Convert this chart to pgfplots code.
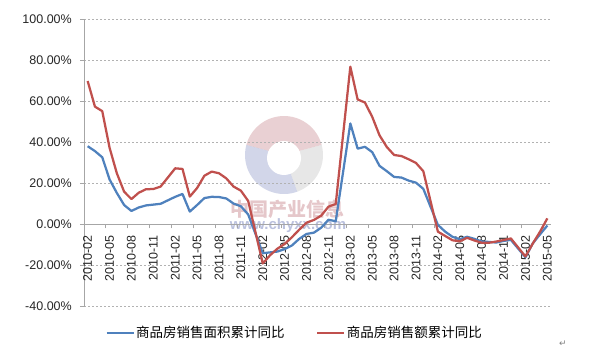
\documentclass[border=0pt]{standalone}
\usepackage{fontspec}
\setmainfont{Liberation Sans}
\newfontfamily\cjk{Noto Sans CJK SC}
\newfontfamily\dejavu{DejaVu Sans}
\usepackage{pgfplots}
\pgfplotsset{compat=1.18}
\definecolor{sblue}{HTML}{4F81BD}
\definecolor{sred}{HTML}{C0504D}
\definecolor{wmpink}{HTML}{C98A90}
\definecolor{wmblue}{HTML}{8E98C8}
\definecolor{wmgray}{HTML}{C4C4C4}

\pgfplotstableread{
i v
0 38.2
1 35.8
2 32.8
3 22.0
4 15.4
5 9.5
6 6.6
7 8.3
8 9.3
9 9.7
10 10.1
12 13.5
13 14.9
14 6.3
15 9.5
16 12.9
17 13.5
18 13.4
19 12.7
20 10.2
21 8.9
22 4.9
24 -14.0
25 -13.6
26 -13.2
27 -12.0
28 -10.2
29 -7.0
30 -4.6
31 -4.0
32 -1.6
33 2.3
34 1.6
36 49.3
37 37.0
38 37.9
39 35.3
40 28.6
41 26.0
42 23.2
43 22.9
44 21.4
45 20.4
46 17.4
48 -0.2
49 -3.5
50 -6.0
51 -7.2
52 -6.0
53 -7.0
54 -8.3
55 -8.5
56 -8.8
57 -8.0
58 -7.5
60 -16.0
61 -9.2
62 -4.8
63 -0.5
}\areadata

\pgfplotstableread{
i v
0 70.0
1 57.5
2 55.3
3 37.5
4 25.0
5 16.0
6 12.4
7 15.5
8 17.2
9 17.3
10 18.5
12 27.4
13 27.1
14 13.6
15 17.8
16 23.8
17 25.8
18 25.0
19 22.5
20 18.5
21 16.5
22 11.5
24 -19.0
25 -15.0
26 -11.8
27 -9.5
28 -6.2
29 -2.5
30 0.9
31 2.2
32 4.3
33 8.7
34 10.0
36 77.0
37 61.0
38 59.5
39 52.5
40 43.5
41 37.8
42 33.9
43 33.4
44 31.8
45 30.0
46 26.0
48 -3.5
49 -5.6
50 -7.7
51 -8.2
52 -6.5
53 -7.8
54 -8.9
55 -8.9
56 -8.3
57 -7.6
58 -6.8
60 -15.6
61 -9.3
62 -3.5
63 3.0
}\valuedata

\begin{document}
\begin{tikzpicture}
\path[use as bounding box] (0bp,0bp) rectangle (602bp,352bp);
% watermark
\begin{scope}[opacity=0.4]
  \fill[wmpink] (284bp,197bp) -- ++(15:39bp) arc (15:165:39bp) -- cycle;
  \fill[wmblue] (284bp,197bp) -- ++(165:39bp) arc (165:290:39bp) -- cycle;
  \fill[wmgray] (284bp,197bp) -- ++(290:39bp) arc (290:375:39bp) -- cycle;
\end{scope}
\fill[white] (284bp,194bp) circle (17bp);
\node[text=wmpink!80, opacity=0.6, font=\cjk\bfseries\fontsize{19bp}{20bp}\selectfont] at (287bp,143bp) {中国产业信息};
\node[text=wmblue, opacity=0.6, font=\bfseries\fontsize{15bp}{16bp}\selectfont] at (288bp,126bp) {www.chyxx.com};
\node[text=gray, font=\dejavu\fontsize{9bp}{10bp}\selectfont] at (563bp,8bp) {↵};
\begin{axis}[
  at={(84bp,45.5bp)}, anchor=south west,
  scale only axis, width=467bp, height=287bp,
  xmin=-0.5, xmax=63.5, ymin=-40, ymax=100,
  axis x line=middle, axis y line=left,
  axis line style={-, draw=gray!70, line width=0.8bp},
  every inner x axis line/.append style={-},
  every outer y axis line/.append style={-},
  xtick={0,3,...,63},
  xticklabels={2010-02,2010-05,2010-08,2010-11,2011-02,2011-05,2011-08,2011-11,2012-02,2012-05,2012-08,2012-11,2013-02,2013-05,2013-08,2013-11,2014-02,2014-05,2014-08,2014-11,2015-02,2015-05},
  minor xtick={2.5,5.5,...,62.5},
  ytick={-40,-20,...,100},
  yticklabels={-40.00\%,-20.00\%,0.00\%,20.00\%,40.00\%,60.00\%,80.00\%,100.00\%},
  ymajorgrids,
  grid style={gray!60, dash pattern=on 2bp off 2bp, line width=0.6bp},
  tick align=outside,
  major tick length=4bp, minor tick length=4bp,
  major x tick style={draw=none},
  minor x tick style={draw=gray!70, line width=0.8bp},
  ytick style={draw=gray!70, line width=0.8bp},
  ticklabel style={font=\fontsize{12.5bp}{14bp}\selectfont, text=black!85},
  xticklabel style={rotate=90, anchor=east, inner sep=0pt},
  xticklabel shift=7bp,
  yticklabel style={anchor=east, inner sep=0pt},
  yticklabel shift=8bp,
  legend columns=2,
  legend style={at={(0.4507,-0.0923)}, anchor=center, draw=none, fill=none,
    font=\cjk\fontsize{13.5bp}{15bp}\selectfont,
    nodes={inner sep=1.5bp},
    /tikz/every even column/.append style={column sep=30bp}},
  legend image code/.code={\draw[#1] (0bp,0bp) -- (27bp,0bp);},
]
\addplot[sblue, line width=2.25bp, line join=round] table[x=i,y=v] {\areadata};
\addlegendentry{商品房销售面积累计同比}
\addplot[sred, line width=2.25bp, line join=round] table[x=i,y=v] {\valuedata};
\addlegendentry{商品房销售额累计同比}
\end{axis}
\end{tikzpicture}
\end{document}
